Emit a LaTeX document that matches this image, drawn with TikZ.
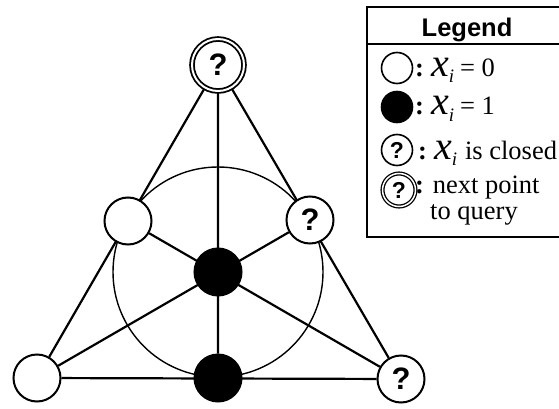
\documentclass[tikz,border=0pt]{standalone}
\usepackage{fontspec}
\setmainfont{Liberation Serif}
\setsansfont{Liberation Sans}
\usetikzlibrary{backgrounds}

\newcommand{\xvar}{{\fontsize{40}{40}\selectfont\itshape x}\raisebox{-6pt}[0pt][0pt]{\fontsize{19}{19}\selectfont\itshape i}}

\begin{document}
\begin{tikzpicture}[x=1pt,y=-1pt,font=\fontsize{26.5}{26.5}\selectfont,
 pnt/.style={circle,draw,line width=2pt,fill=white,minimum size=47pt,inner sep=0pt,font=\fontsize{31}{31}\selectfont\sffamily\bfseries},
 one/.style={pnt,fill=black},
 nxt/.style={pnt,double,double distance=2pt,line width=1.8pt,minimum size=52pt},
 key/.style={circle,draw,line width=1.6pt,fill=white,minimum size=31pt,inner sep=0pt,font=\fontsize{23}{23}\selectfont\sffamily\bfseries},
 keyone/.style={key,fill=black},
 keynxt/.style={key,double,double distance=1.5pt,line width=1.3pt,minimum size=33pt},
 lab/.style={anchor=base west,inner sep=0pt},
 line/.style={line width=2.2pt}]
\useasboundingbox (0,0) rectangle (559,409);
% points of the plane
\node[nxt] (top) at (218,65) {?};
\node[pnt] (midl) at (128,221) {};
\node[pnt] (midr) at (310,220) {?};
\node[one] (ctr) at (218,272) {};
\node[pnt] (botl) at (37,378) {};
\node[one] (botm) at (218,378) {};
\node[pnt] (botr) at (401,379) {?};
\begin{pgfonlayer}{background}
\draw[line] (top)--(botl) (top)--(botr) (botl)--(botr);
\draw[line] (top)--(botm) (botl)--(midr) (botr)--(midl);
\draw[line width=1.4pt] (ctr.center) circle[radius=105pt];
\end{pgfonlayer}
% legend
\draw[line width=2.5pt] (367,7) rectangle (580,237);
\draw[line width=2pt] (367,44) -- (580,44);
\node[anchor=base,font=\fontsize{25.5}{25.5}\selectfont\sffamily\bfseries] (title) at (467,37) {Legend};
\node[key] (k0) at (397,68) {};
\node[keyone] (k1) at (397,107) {};
\node[key] (k2) at (397,150) {?};
\node[keynxt] (k3) at (399,190) {?};
\node[lab] (t0) at (415,77) {\textbf{:}\hspace{7pt}\xvar\hspace{6pt}= 0};
\node[lab] (t1) at (415,115) {\textbf{:}\hspace{7pt}\xvar\hspace{6pt}= 1};
\node[lab] (t2) at (418,159) {\textbf{:}\hspace{7pt}\xvar\hspace{8pt}is closed};
\node[lab] (t3) at (415,193) {\textbf{:} next point};
\node[lab] (t4) at (430,219) {to query};
\end{tikzpicture}
\end{document}
